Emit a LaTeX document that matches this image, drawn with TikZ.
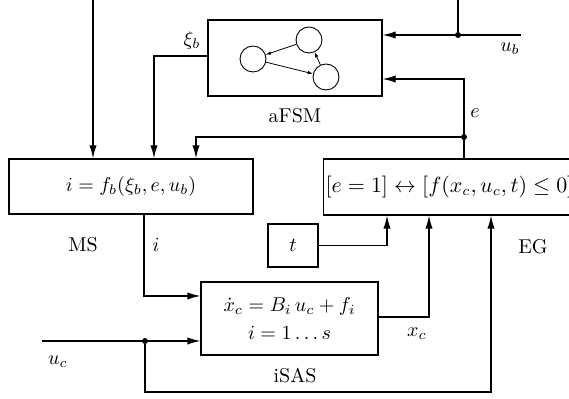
\documentclass[tikz,border=0pt]{standalone}
\usepackage{amsmath}
\usepackage{amssymb}
\usetikzlibrary{arrows.meta}

\tikzset{
  block/.style={draw, line width=0.6pt, inner sep=1pt},
  state/.style={draw, circle, line width=0.45pt, minimum size=13pt, inner sep=0pt},
  wire/.style={line width=0.6pt},
  feed/.style={wire, -{Latex[length=6.5pt,width=3.6pt]}},
  tiny/.style={line width=0.4pt, -{Latex[length=2.6pt,width=1.8pt]}},
  dot/.style={circle, fill, inner sep=0pt, minimum size=3pt}
}

\begin{document}
\begin{tikzpicture}[x=0.5pt, y=-0.5pt]
  \useasboundingbox (0,0) rectangle (569,399);
  % blocks
  \node[block, minimum width=87pt, minimum height=38pt] (fsm) at (295,58) {};
  \node[block, minimum width=122pt, minimum height=27.5pt] (ms) at (131,186.5) {$i = f_b(\xi_b, e, u_b)$};
  \node[block, anchor=west, minimum height=28pt, text width=140pt, align=left, font=\fontsize{10.6}{13}\selectfont] (eg) at (323,187)
    {$[e=1] \leftrightarrow [f(x_c, u_c, t) \leq 0]$};
  \node[block, minimum width=25pt, minimum height=21.5pt] (tb) at (293,245.5) {$t$};
  \node[block, minimum width=88.5pt, minimum height=36.5pt, align=center] (sas) at (289.5,318.5)
    {$\dot{x}_c = B_i\, u_c + f_i$\\[2pt] $i = 1\ldots s$};
  % automaton inside aFSM
  \node[state] (qa) at (253,59) {};
  \node[state] (qb) at (309,40) {};
  \node[state] (qc) at (326,77) {};
  \draw[tiny] (qb) -- (qa);
  \draw[tiny] (qa) -- (qc);
  \draw[tiny] (qc) -- (qb);
  % branch points and free ends
  \coordinate (topl) at (93,0);
  \coordinate (topr) at (458,0);
  \coordinate (ubin) at (521,35);
  \node[dot] (ubdot) at (458,35) {};
  \node[dot] (edot) at (464,137) {};
  \coordinate (ucin) at (42,341);
  \node[dot] (ucdot) at (145,341) {};
  % u_b and external input to MS
  \draw[feed] (topl) -- (topl |- ms.north);
  \draw[feed] (ubin) -- (fsm.east |- ubin);
  \draw[wire] (ubdot) -- (topr);
  % xi_b
  \draw[feed] (fsm.west |- 0,56) -| (154,0 |- ms.north);
  % e back to aFSM and MS
  \draw[feed] (eg.north -| edot) -- (464,79) -- (fsm.east |- 0,79);
  \draw[feed] (edot) -| (196,0 |- ms.north);
  % i into iSAS
  \draw[feed] (ms.south -| 144,0) |- (sas.west |- 0,296);
  % t and x_c into EG
  \draw[feed] (tb.east) -| (387,0 |- eg.south);
  \draw[feed] (sas.east |- 0,317) -| (429,0 |- eg.south);
  % u_c
  \draw[feed] (ucin) -- (sas.west |- ucin);
  \draw[feed] (ucdot) |- (491,392) -- (491,0 |- eg.south);
  % labels
  \node at (192,41) {$\xi_b$};
  \node at (510,49) {$u_b$};
  \node at (475,113) {$e$};
  \node at (295,116) {aFSM};
  \node at (83,245) {MS};
  \node at (156,245) {$i$};
  \node at (533,247) {EG};
  \node at (417,334) {$x_c$};
  \node at (58,362) {$u_c$};
  \node at (295,376) {iSAS};
\end{tikzpicture}
\end{document}
